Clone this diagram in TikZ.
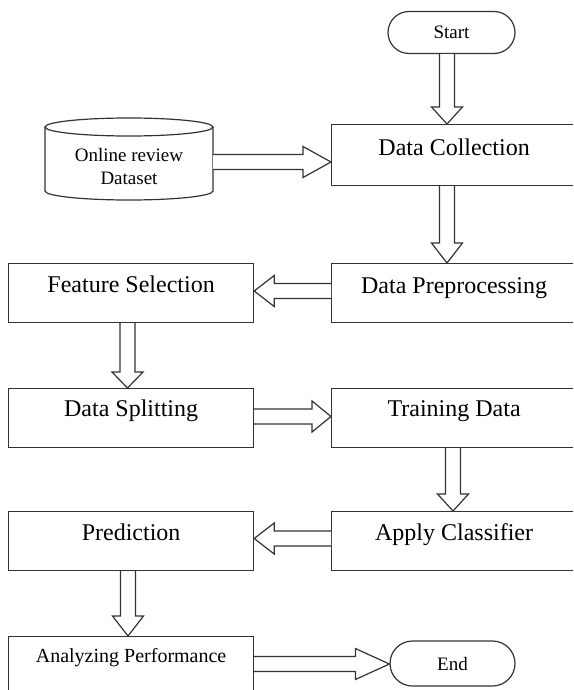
\documentclass[tikz,border=0pt]{standalone}
\usepackage{fontspec}
\setmainfont{Liberation Serif}
\usetikzlibrary{shapes.misc,calc}
\tikzset{
  ln/.style={line width=1.2pt, draw=black!80},
  box/.style={ln, rectangle, anchor=north west, minimum width=245pt,
    inner xsep=0pt, inner ysep=0pt, text height=29pt, text depth=30pt,
    font=\fontsize{24}{28}\selectfont},
  term/.style={ln, rounded rectangle, minimum width=127pt, minimum height=42pt,
    inner sep=0pt, font=\fontsize{19}{22}\selectfont},
  blk/.style={ln, fill=white, line join=miter},
}
\def\sw{7.5pt}
\def\hw{15.5pt}
% vertical block arrow: from, to, x, head length
\newcommand\arrV[4]{\draw[blk] let \p1=(#1), \p2=(#2) in
  ({#3pt-\sw},\y1) -- ({#3pt-\sw},{\y2+#4pt}) -- ({#3pt-\hw},{\y2+#4pt}) -- (#3pt,\y2)
  -- ({#3pt+\hw},{\y2+#4pt}) -- ({#3pt+\sw},{\y2+#4pt}) -- ({#3pt+\sw},\y1);}
% horizontal block arrow: from, to, y (downward px), signed head length
\newcommand\arrH[4]{\draw[blk] let \p1=(#1), \p2=(#2) in
  (\x1,{-#3pt+\sw}) -- ({\x2-(#4pt)},{-#3pt+\sw}) -- ({\x2-(#4pt)},{-#3pt+\hw}) -- (\x2,-#3pt)
  -- ({\x2-(#4pt)},{-#3pt-\hw}) -- ({\x2-(#4pt)},{-#3pt-\sw}) -- (\x1,{-#3pt-\sw});}
\begin{document}
\begin{tikzpicture}[x=1pt,y=-1pt]
\useasboundingbox (0,0) rectangle (573,690);
\clip (0,0) rectangle (573,690);
\fill[white] (0,0) rectangle (573,690);

% terminals
\node[term] (start) at (451.5,32.5) {Start};
\node[term, minimum width=125pt, minimum height=45pt] (end) at (452.5,663.5) {End};

% dataset cylinder
\node[minimum width=168pt, minimum height=82pt, inner sep=0pt] (ds) at (129,159) {};
\draw[ln] (45,127) -- (45,191) arc[start angle=180, end angle=360, x radius=84pt, y radius=9pt] -- (213,127);
\draw[ln] (129,127) ellipse [x radius=84pt, y radius=9pt];
\node[font=\fontsize{19}{23}\selectfont, align=center] (dstxt) at (129,166) {Online review\\Dataset};

% process boxes
\node[box, text height=31pt, text depth=30pt] (dc) at (331,124) {Data Collection};
\node[box, text height=30pt, text depth=29pt] (dp) at (331,263) {Data Preprocessing};
\node[box] (fs) at (8,263) {Feature Selection};
\node[box, text height=28pt, text depth=31pt] (dsp) at (8,388) {Data Splitting};
\node[box, text height=28pt, text depth=31pt] (td) at (331,388) {Training Data};
\node[box] (ac) at (331,511) {Apply Classifier};
\node[box] (pr) at (8,511) {Prediction};
\node[box, text height=26pt, text depth=60pt, font=\fontsize{20}{24}\selectfont] (ap) at (8,636) {Analyzing Performance};

% block arrows
\arrH{ds.east}{dc.west}{162}{28}
\arrV{start.south}{dc.north}{447}{17}
\arrV{dc.south}{dp.north}{447}{20}
\arrH{dp.west}{fs.east}{291}{-20}
\arrV{fs.south}{dsp.north}{127.5}{16}
\arrH{dsp.east}{td.west}{416.5}{19}
\arrV{td.south}{ac.north}{453}{17}
\arrH{ac.west}{pr.east}{538.5}{-20}
\arrV{pr.south}{ap.north}{128}{20}
\arrH{ap.east}{end.west}{664}{34}
\end{tikzpicture}
\end{document}
